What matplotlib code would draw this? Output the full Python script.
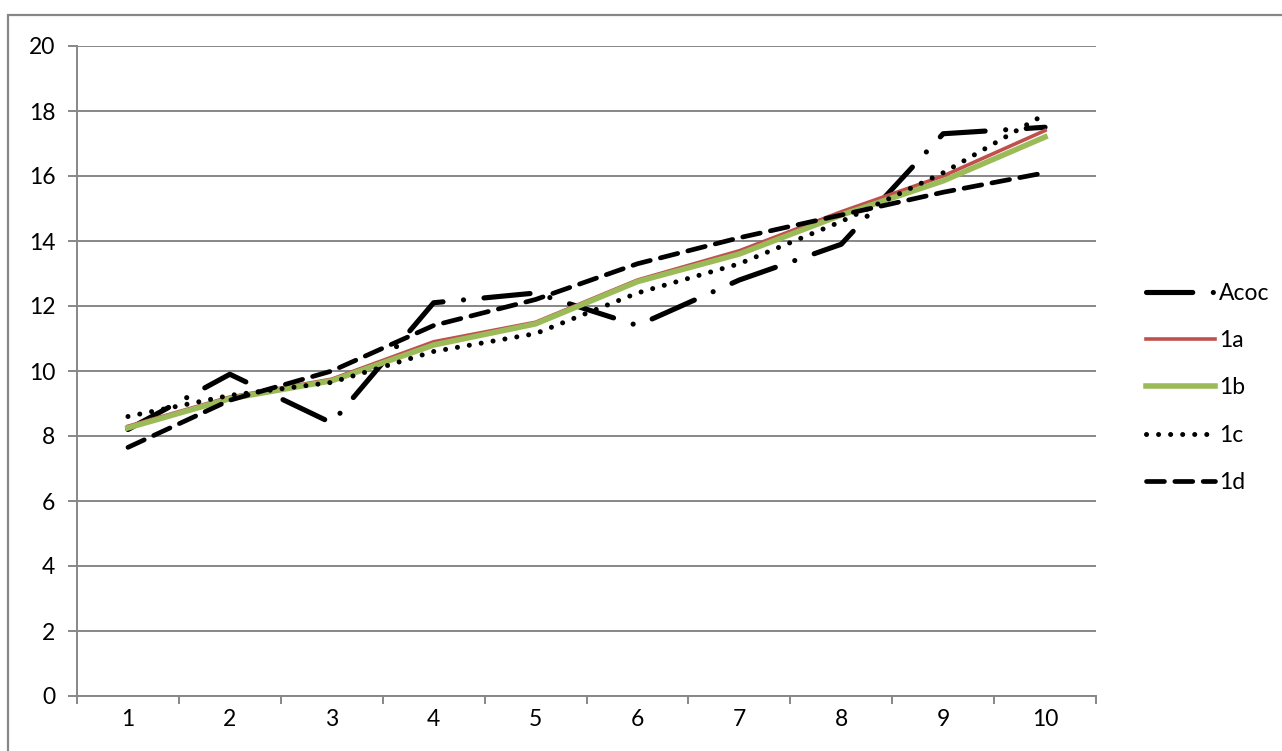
import matplotlib.pyplot as plt
from matplotlib.patches import Rectangle
from matplotlib.ticker import FixedLocator, NullFormatter

# dane serii
kategorie = list(range(1, 11))
acoc = [8.2, 9.9, 8.4, 12.1, 12.4, 11.4, 12.8, 13.9, 17.3, 17.5]
seria_1a = [8.3, 9.2, 9.75, 10.9, 11.5, 12.8, 13.7, 14.9, 16.0, 17.4]
seria_1b = [8.25, 9.15, 9.7, 10.8, 11.45, 12.75, 13.6, 14.8, 15.85, 17.2]
seria_1c = [8.6, 9.25, 9.65, 10.6, 11.15, 12.4, 13.3, 14.6, 16.1, 17.9]
seria_1d = [7.65, 9.1, 10.0, 11.4, 12.2, 13.3, 14.1, 14.8, 15.5, 16.1]

plt.rcParams['font.family'] = ['Lato', 'DejaVu Sans']
szary = '#878787'

W, H = 1282, 751
fig = plt.figure(figsize=(W / 100, H / 100), dpi=100)
ax = fig.add_axes([77 / W, (H - 696) / H, (1096 - 77) / W, (696 - 46) / H])

# ramka wykresu
fig.patches.append(Rectangle((8 / W, -0.1), 1.2, (H - 15) / H + 0.1,
                             transform=fig.transFigure, fill=False,
                             edgecolor=szary, linewidth=1.6))

ax.plot(kategorie, acoc, color='black', linewidth=3.7,
        dashes=(9, 4, 0.01, 4), dash_capstyle='round', label='Acoc')
ax.plot(kategorie, seria_1a, color='#C0504D', linewidth=2.6, label='1a')
ax.plot(kategorie, seria_1b, color='#9BBB59', linewidth=4.0, label='1b')
ax.plot(kategorie, seria_1c, color='black', linewidth=3.6,
        dashes=(0.01, 2.4), dash_capstyle='round', label='1c')
ax.plot(kategorie, seria_1d, color='black', linewidth=3.4,
        dashes=(3.8, 2.2), dash_capstyle='round', label='1d')

ax.set_xlim(0.5, 10.5)
ax.set_ylim(0, 20)
ax.set_yticks(range(0, 21, 2))
ax.yaxis.grid(True, color=szary, linewidth=1.4)
ax.set_axisbelow(True)

# podziałki między kategoriami, etykiety w środku
ax.xaxis.set_major_locator(FixedLocator([k + 0.5 for k in range(0, 11)]))
ax.xaxis.set_major_formatter(NullFormatter())
ax.xaxis.set_minor_locator(FixedLocator(kategorie))
ax.set_xticklabels([str(k) for k in kategorie], minor=True)
ax.tick_params(axis='x', which='major', length=6, width=1.4, color=szary)
ax.tick_params(axis='x', which='minor', length=0, pad=9, labelsize=16.5)
ax.tick_params(axis='y', length=6.5, width=1.4, color=szary, pad=9,
               labelsize=16.5)

for s in ['top', 'right']:
    ax.spines[s].set_visible(False)
for s in ['left', 'bottom']:
    ax.spines[s].set_color(szary)
    ax.spines[s].set_linewidth(1.4)

ax.legend(loc='center left', bbox_to_anchor=(1.04, 0.474), frameon=False,
          fontsize=16.5, handlelength=3.0, handletextpad=0.2,
          labelspacing=1.15, borderaxespad=0)

fig.savefig('out.png', dpi=100)
